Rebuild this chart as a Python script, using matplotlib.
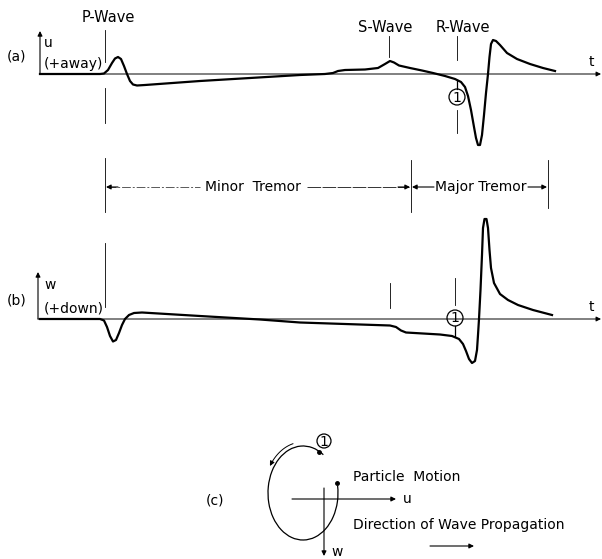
import matplotlib
matplotlib.use("Agg")
import matplotlib.pyplot as plt
import numpy as np
from matplotlib.patches import Arc, Circle

# (a) horizontal ground motion u (+away) against time (arbitrary units)
t_a = [0.0, 6.0, 6.4, 6.8, 7.2, 7.5, 7.8, 8.1, 8.4, 8.7, 9.0, 9.3, 9.7, 10.5,
       16.0, 21.0, 26.0, 28.5, 29.3, 29.8, 30.5, 32.5, 33.8, 34.5, 35.0, 35.4,
       35.9, 37.0, 38.2, 39.3, 40.5, 41.5, 42.1, 42.5, 42.8, 43.1, 43.4, 43.6,
       43.8, 44.0, 44.2, 44.4, 44.6, 44.8, 44.95, 45.1, 45.3, 45.6, 46.0, 46.7,
       47.7, 49.0, 50.3, 51.5]
u_a = [0.0, 0.0, 0.05, 0.4, 1.1, 1.55, 1.7, 1.5, 0.8, 0.0, -0.7, -1.05, -1.15,
       -1.1, -0.7, -0.4, -0.1, 0.0, 0.1, 0.3, 0.4, 0.45, 0.6, 1.0, 1.3, 1.15,
       0.85, 0.6, 0.35, 0.1, -0.2, -0.5, -0.8, -1.3, -2.2, -3.6, -5.3, -6.4,
       -7.1, -7.1, -6.1, -4.1, -1.9, 0.0, 1.7, 3.0, 3.4, 3.3, 2.9, 2.1, 1.5,
       1.0, 0.6, 0.3]

# (b) vertical ground motion w (+down) against time
t_b = [0.0, 6.0, 6.4, 6.7, 7.0, 7.3, 7.6, 7.9, 8.2, 8.5, 8.9, 9.4, 10.2, 16.0,
       22.0, 26.0, 35.0, 35.6, 36.1, 36.6, 40.0, 41.2, 41.9, 42.3, 42.6, 42.9,
       43.2, 43.5, 43.7, 43.8, 43.9, 44.05, 44.2, 44.3, 44.45, 44.65, 44.8,
       44.95, 45.1, 45.4, 46.0, 46.8, 47.8, 49.3, 51.2]
w_b = [0.0, 0.0, -0.15, -0.8, -1.7, -2.25, -2.1, -1.4, -0.6, 0.0, 0.4, 0.6,
       0.65, 0.3, -0.05, -0.35, -0.65, -0.8, -1.15, -1.35, -1.55, -1.7, -2.0,
       -2.5, -3.2, -4.0, -4.4, -4.2, -3.1, -1.6, 0.0, 2.9, 6.4, 9.1, 10.0, 10.0,
       9.1, 6.9, 5.1, 3.6, 2.5, 1.9, 1.4, 0.9, 0.4]

wave_labels = ["P-Wave", "S-Wave", "R-Wave"]
tremor_labels = ["Minor  Tremor", "Major Tremor"]

W, H = 602, 559
fig = plt.figure(figsize=(W / 100, H / 100), dpi=100)

# overlay in pixel units for the lettering and construction lines
ax = fig.add_axes([0, 0, 1, 1])
ax.set_xlim(0, W)
ax.set_ylim(H, 0)
ax.axis("off")

ax_a = fig.add_axes([0, (H - 160) / H, 1, 160 / H])
ax_a.set_xlim(-4.0, 56.2)
ax_a.set_ylim(-8.6, 7.4)
ax_a.axis("off")

ax_b = fig.add_axes([0, (H - 380) / H, 1, 180 / H])
ax_b.set_xlim(-4.0, 56.2)
ax_b.set_ylim(-6.1, 11.9)
ax_b.axis("off")

ax_a.plot(t_a, u_a, color="black", lw=1.6, solid_joinstyle="round")
ax_b.plot(t_b, w_b, color="black", lw=1.6, solid_joinstyle="round")

fs = 10
txt = dict(color="black", fontsize=fs, family="DejaVu Sans")
arr = dict(arrowstyle="-|>", color="black", lw=0.8, mutation_scale=7,
           shrinkA=0, shrinkB=0)
thin = dict(color="black", lw=0.6)

# time axes and amplitude axes
for y0, x0, ytop in [(74, 40, 31), (319, 38, 272)]:
    ax.annotate("", xy=(601, y0), xytext=(x0, y0), arrowprops=dict(arr, lw=0.7))
    ax.annotate("", xy=(x0, ytop), xytext=(x0, y0), arrowprops=dict(arr, lw=0.8))
    ax.text(591, y0 - 12, "t", ha="center", va="center", **txt)

ax.text(17, 56, "(a)", ha="center", va="center", **txt)
ax.text(44, 43, "u", ha="left", va="center", **txt)
ax.text(44, 64, "(+away)", ha="left", va="center", **txt)
ax.text(17, 300, "(b)", ha="center", va="center", **txt)
ax.text(44, 285, "w", ha="left", va="center", **txt)
ax.text(44, 309, "(+down)", ha="left", va="center", **txt)

# wave arrival markers
ax.text(108, 18, wave_labels[0], ha="center", va="center", **dict(txt, fontsize=10.5))
ax.text(385, 27, wave_labels[1], ha="center", va="center", **dict(txt, fontsize=10.5))
ax.text(463, 27, wave_labels[2], ha="center", va="center", **dict(txt, fontsize=10.5))
for x, y1, y2 in [(105, 30, 62), (105, 88, 123), (105, 158, 212), (105, 243, 307),
                  (389, 36, 57), (457, 36, 60), (457, 110, 133),
                  (390, 283, 308), (455, 278, 305),
                  (411, 160, 212), (548, 160, 208)]:
    ax.plot([x, x], [y1, y2], **thin)

# circled 1 on both traces
for cx, cy, ya, yb in [(457, 97, 80, 89), (455, 318, 326, 336)]:
    ax.add_patch(Circle((cx, cy), 8, fill=False, ec="black", lw=0.9))
    ax.text(cx, cy + 0.5, "1", ha="center", va="center", **txt)
    ax.plot([cx, cx], [ya, yb], color="black", lw=0.9)

# tremor brackets
ax.plot([107, 200], [187, 187], color="0.35", lw=0.7, linestyle=(0, (9, 2, 2, 2)))
ax.plot([307, 409], [187, 187], color="0.2", lw=0.7, linestyle=(0, (14, 1.5)))
ax.annotate("", xy=(106, 187), xytext=(118, 187), arrowprops=arr)
ax.annotate("", xy=(410, 187), xytext=(398, 187), arrowprops=arr)
ax.text(253, 187, tremor_labels[0], ha="center", va="center", **txt)
ax.annotate("", xy=(412, 187), xytext=(434, 187), arrowprops=arr)
ax.annotate("", xy=(547, 187), xytext=(528, 187), arrowprops=arr)
ax.text(481, 187, tremor_labels[1], ha="center", va="center", **txt)

# (c) particle motion
cx, cy, a, b = 303, 493, 35, 47
ax.add_patch(Arc((cx, cy), 2 * a, 2 * b, theta1=-12, theta2=298, color="black", lw=0.9))
for th in (62, 372):
    r = np.deg2rad(th)
    ax.plot(cx + a * np.cos(r), cy - b * np.sin(r), "o", color="black", ms=2.5)
ths = np.deg2rad(np.linspace(105, 148, 30))
ax.plot(cx + (a + 4) * np.cos(ths[:-2]), cy - (b + 4) * np.sin(ths[:-2]), color="black", lw=0.7)
ax.annotate("", xy=(cx + (a + 4) * np.cos(ths[-1]), cy - (b + 4) * np.sin(ths[-1])),
            xytext=(cx + (a + 4) * np.cos(ths[-4]), cy - (b + 4) * np.sin(ths[-4])),
            arrowprops=dict(arr, lw=0.7))
ax.add_patch(Circle((324, 441), 7, fill=False, ec="black", lw=0.9))
ax.text(324, 441.5, "1", ha="center", va="center", **txt)

ax.annotate("", xy=(396, 499), xytext=(292, 499), arrowprops=arr)
ax.annotate("", xy=(324, 556), xytext=(324, 488), arrowprops=arr)
ax.text(403, 499, "u", ha="left", va="center", **txt)
ax.text(331, 552, "w", ha="left", va="center", **txt)
ax.text(215, 500, "(c)", ha="center", va="center", **txt)
ax.text(353, 477, "Particle  Motion", ha="left", va="center", **txt)
ax.text(353, 525, "Direction of Wave Propagation", ha="left", va="center", **txt)
ax.annotate("", xy=(474, 546), xytext=(430, 546), arrowprops=arr)

fig.savefig("out.png", dpi=100, facecolor="white")
